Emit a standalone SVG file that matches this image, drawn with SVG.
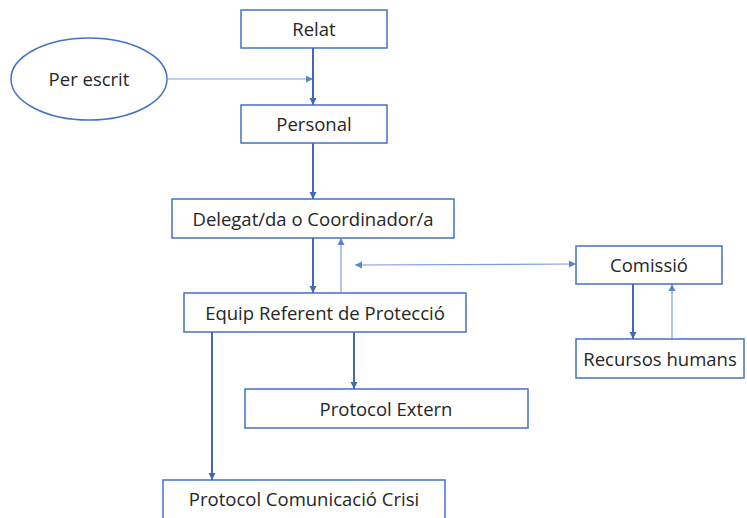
<svg xmlns="http://www.w3.org/2000/svg" width="747" height="518" viewBox="0 0 747 518">
<style>
.box{fill:#fff;stroke:#4472C4;stroke-width:1.5}
.t{font-family:"Open Sans","Liberation Sans",sans-serif;font-size:18.5px;fill:#262626;text-anchor:middle;dominant-baseline:central}
.thick{stroke:#4169B4;stroke-width:2;fill:none}
.thin{stroke:#7A9EDB;stroke-width:1.2;fill:none}
</style>
<defs>
<marker id="ah" markerWidth="8" markerHeight="8" refX="7" refY="4" orient="auto" markerUnits="userSpaceOnUse">
<path d="M0,0.5 L7,4 L0,7.5 Z" fill="#4169B4"/>
</marker>
<marker id="ahl" markerWidth="8" markerHeight="8" refX="7" refY="4" orient="auto-start-reverse" markerUnits="userSpaceOnUse">
<path d="M0,0.5 L7,4 L0,7.5 Z" fill="#5B84D0"/>
</marker>
</defs>
<g id="connectors">
<line class="thin" x1="168" y1="79" x2="313" y2="79" marker-end="url(#ahl)"/>
<line class="thick" x1="313" y1="48" x2="313" y2="105" marker-end="url(#ah)"/>
<line class="thick" x1="313" y1="143" x2="313" y2="199" marker-end="url(#ah)"/>
<line class="thick" x1="313" y1="238" x2="313" y2="293" marker-end="url(#ah)"/>
<line class="thin" x1="341" y1="293" x2="341" y2="238" marker-end="url(#ahl)"/>
<line class="thin" x1="355" y1="265" x2="576" y2="264" marker-start="url(#ahl)" marker-end="url(#ahl)"/>
<line class="thick" x1="633" y1="284" x2="633" y2="339" marker-end="url(#ah)"/>
<line class="thin" x1="672" y1="339" x2="672" y2="284" marker-end="url(#ahl)"/>
<line class="thick" x1="354" y1="332" x2="354" y2="389" marker-end="url(#ah)"/>
<line class="thick" x1="212" y1="332" x2="212" y2="480" marker-end="url(#ah)"/>
</g>
<g id="relat"><rect class="box" x="241" y="10" width="146" height="38"/><text class="t" x="314" y="28.5">Relat</text></g>
<g id="per-escrit"><ellipse class="box" cx="89" cy="79" rx="78" ry="41"/><text class="t" x="89" y="78.5">Per escrit</text></g>
<g id="personal"><rect class="box" x="241" y="105" width="146" height="38"/><text class="t" x="314" y="123.5">Personal</text></g>
<g id="delegat"><rect class="box" x="172" y="199" width="282" height="39"/><text class="t" x="313" y="218">Delegat/da o Coordinador/a</text></g>
<g id="equip"><rect class="box" x="184" y="293" width="282" height="39"/><text class="t" x="325" y="312">Equip Referent de Protecció</text></g>
<g id="comissio"><rect class="box" x="576" y="246" width="146" height="38"/><text class="t" x="649" y="264.5">Comissió</text></g>
<g id="recursos"><rect class="box" x="576" y="339" width="168" height="39"/><text class="t" x="660" y="358">Recursos humans</text></g>
<g id="protocol-extern"><rect class="box" x="245" y="389" width="283" height="39"/><text class="t" x="386" y="408">Protocol Extern</text></g>
<g id="protocol-crisi"><rect class="box" x="163" y="480" width="282" height="40"/><text class="t" x="304" y="498">Protocol Comunicació Crisi</text></g>
</svg>
